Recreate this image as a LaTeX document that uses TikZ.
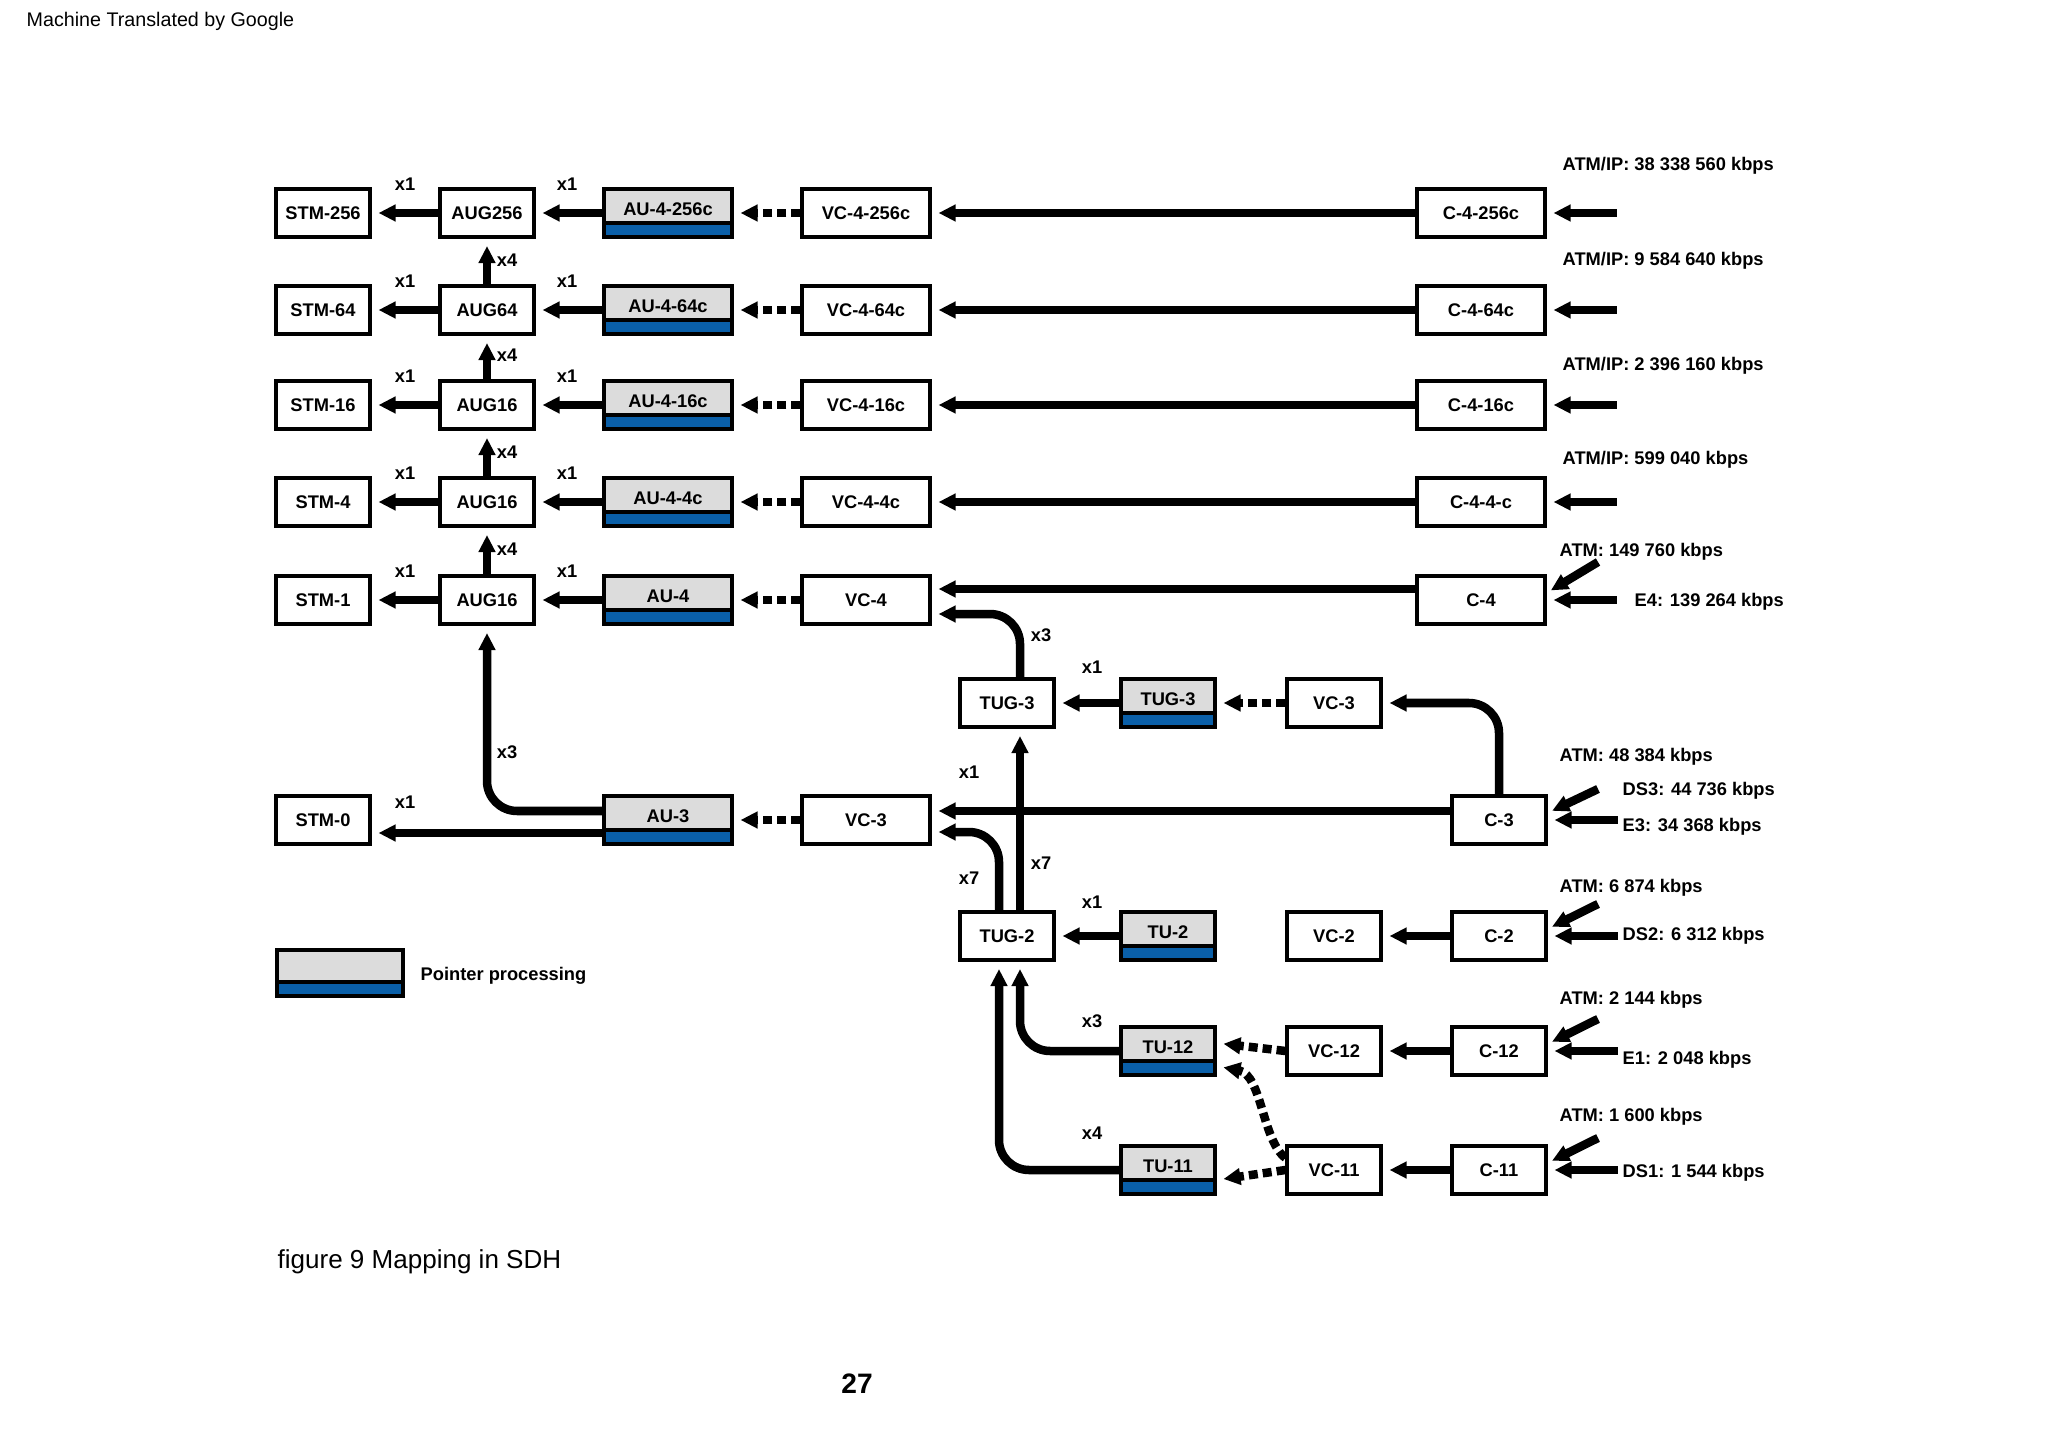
\documentclass[tikz,border=0pt]{standalone}
\usepackage{fontspec}
\setmainfont{Liberation Sans}
\usetikzlibrary{arrows.meta}
\definecolor{pblue}{HTML}{0A5FA8}
\definecolor{pgray}{HTML}{DCDCDC}
\begin{document}
\begin{tikzpicture}[x=0.01cm,y=-0.01cm,
  every node/.style={font=\fontsize{5.2}{6}\selectfont\bfseries},
  box/.style={draw,line width=0.04cm,fill=white,minimum width=0.93cm,minimum height=0.48cm,inner sep=0},
  wbox/.style={box,minimum width=1.27cm},
  ptr/.style={box,fill=pgray,minimum width=#1,
    path picture={\fill[pblue] (path picture bounding box.south west) rectangle ([yshift=0.13cm]path picture bounding box.south east);
      \draw[line width=0.04cm] ([yshift=0.14cm]path picture bounding box.south west) -- ([yshift=0.14cm]path picture bounding box.south east);}},
  ptr/.default=1.27cm,
  conn/.style={line width=0.085cm,-{Triangle[length=0.17cm,width=0.16cm]},shorten >=0.07cm},
  dconn/.style={conn,dash pattern=on 0.09cm off 0.05cm},
  lab/.style={font=\fontsize{5.2}{6}\selectfont\bfseries,inner sep=0,anchor=west},
  mul/.style={font=\fontsize{5.2}{6}\selectfont\bfseries,inner sep=0}]
\useasboundingbox (0,0) rectangle (2048,1452);
\node[font=\fontsize{5.6}{7}\selectfont,anchor=west,inner sep=0] (mt) at (26,21) {Machine Translated by Google};
% rows
\foreach \r/\y/\stm/\aug/\au/\vc/\c/\ml in {1/213/STM-256/AUG256/AU-4-256c/VC-4-256c/C-4-256c/ATM/IP: 38 338 560 kbps,
  2/310/STM-64/AUG64/AU-4-64c/VC-4-64c/C-4-64c/ATM/IP: 9 584 640 kbps,
  3/405/STM-16/AUG16/AU-4-16c/VC-4-16c/C-4-16c/ATM/IP: 2 396 160 kbps,
  4/502/STM-4/AUG16/AU-4-4c/VC-4-4c/C-4-4-c/ATM/IP: 599 040 kbps,
  5/600/STM-1/AUG16/AU-4/VC-4/C-4/ATM: 149 760 kbps}{
  \node[box] (stm\r) at (323,\y) {\stm};
  \node[box] (aug\r) at (487,\y) {\aug};
  \node[ptr] (au\r) at (668,\y) {\raisebox{0.08cm}{\au}};
  \node[wbox] (vc\r) at (866,\y) {\vc};
  \node[wbox] (c\r) at (1481,\y) {\c};
  \node[mul] (ma\r) at (405,\y-29) {x1};
  \node[mul] (mb\r) at (567,\y-29) {x1};
  \draw[conn] (aug\r) -- (stm\r);
  \draw[conn] (au\r) -- (aug\r);
  \draw[dconn] (vc\r) -- (au\r);
}
\foreach \r/\y in {1/166,2/261,3/366,4/460}{
  \node[lab] (ml\r) at (1562,\y) {};
}
\node[lab] at (1562,166) {ATM/IP: 38 338 560 kbps};
\node[lab] at (1562,261) {ATM/IP: 9 584 640 kbps};
\node[lab] at (1562,366) {ATM/IP: 2 396 160 kbps};
\node[lab] at (1562,460) {ATM/IP: 599 040 kbps};
\foreach \r in {1,2,3,4}{
  \draw[conn] (c\r) -- (vc\r);
  \coordinate (in\r) at ([xshift=0.7cm]c\r.east);
  \draw[conn] (in\r) -- (c\r);
}
\foreach \a/\b/\y in {2/1/260,3/2/355,4/3/452,5/4/549}{
  \draw[conn] (aug\a) -- (aug\b);
  \node[mul] at (507,\y) {x4};
}
% row 5 extras
\draw[conn] ([yshift=0.11cm]c5.west) -- ([yshift=0.11cm]vc5.east);
\coordinate (in5) at ([xshift=0.7cm]c5.east);
\draw[conn] (in5) -- (c5);
\coordinate (d5) at (1598,562);
\draw[conn,shorten >=0.05cm] (d5) -- ([yshift=0.07cm]c5.east);
\node[lab] at (1559,552) {ATM: 149 760 kbps};
\node[lab] at (1634,602) {E4: 139 264 kbps};
% STM-0 row
\node[box] (stm0) at (323,820) {STM-0};
\node[ptr] (au3) at (668,820) {\raisebox{0.08cm}{AU-3}};
\node[wbox] (vc3) at (866,820) {VC-3};
\draw[conn] ([yshift=-0.13cm]au3.west) -- ([yshift=-0.13cm]stm0.east);
\node[mul] at (405,802) {x1};
\draw[conn,rounded corners=0.3cm] ([yshift=0.09cm]au3.west) -| (aug5.south);
\node[mul] at (507,752) {x3};
\draw[dconn] (vc3) -- (au3);
% TUG-3
\node[box] (tug3) at (1007,703) {TUG-3};
\node[ptr=0.93cm] (tu3) at (1168,703) {\raisebox{0.08cm}{TUG-3}};
\node[box] (vc3b) at (1334,703) {VC-3};
\node[box] (c3) at (1499,820) {C-3};
\draw[conn] (tu3) -- (tug3);
\node[mul] at (1092,667) {x1};
\draw[dconn] (vc3b) -- (tu3);
\draw[conn,rounded corners=0.3cm] (c3.north) |- (vc3b.east);
\draw[conn,rounded corners=0.3cm] ([xshift=0.13cm]tug3.north) |- ([yshift=-0.14cm]vc5.east);
\node[mul] at (1041,635) {x3};
\draw[conn] ([yshift=0.09cm]c3.west) -- ([yshift=0.09cm]vc3.east);
\node[mul] at (969,772) {x1};
\coordinate (in6) at ([xshift=0.7cm]c3.east);
\draw[conn] (in6) -- (c3);
\coordinate (d6) at (1598,789);
\draw[conn,shorten >=0.05cm] (d6) -- ([yshift=0.07cm]c3.east);
\node[lab] at (1559,757) {ATM: 48 384 kbps};
\node[lab] at (1622,791) {DS3: 44 736 kbps};
\node[lab] at (1622,827) {E3: 34 368 kbps};
% TUG-2 area
\node[box] (tug2) at (1007,936) {TUG-2};
\draw[conn] ([xshift=0.13cm]tug2.north) -- ([xshift=0.13cm]tug3.south);
\node[mul] at (1041,863) {x7};
\draw[conn,rounded corners=0.3cm] ([xshift=-0.08cm]tug2.north) |- ([yshift=-0.12cm]vc3.east);
\node[mul] at (969,878) {x7};
\foreach \n/\y/\tu/\vc/\c/\m/\my in {2/936/TU-2/VC-2/C-2/x1/902, 12/1051/TU-12/VC-12/C-12/x3/1021, 11/1170/TU-11/VC-11/C-11/x4/1133}{
  \node[ptr=0.93cm] (tu\n) at (1168,\y) {\raisebox{0.08cm}{\tu}};
  \node[box] (vcs\n) at (1334,\y) {\vc};
  \node[box] (cs\n) at (1499,\y) {\c};
  \node[mul] at (1092,\my) {\m};
  \draw[conn] (cs\n) -- (vcs\n);
  \coordinate (ins\n) at ([xshift=0.7cm]cs\n.east);
  \draw[conn] (ins\n) -- (cs\n);
  \coordinate (ds\n) at (1598,\y-32);
  \draw[conn,shorten >=0.05cm] (ds\n) -- ([yshift=0.07cm]cs\n.east);
}
\draw[conn] (tu2) -- (tug2);
\draw[dconn] (vcs12.west) -- ([yshift=0.08cm]tu12.east);
\draw[dconn] (vcs11.west) -- ([yshift=-0.1cm]tu11.east);
\draw[dconn] ([yshift=0.12cm]vcs11.west) .. controls (1262,1140) and (1262,1075) .. ([yshift=-0.15cm]tu12.east);
\draw[conn,rounded corners=0.3cm] (tu12.west) -| ([xshift=0.13cm]tug2.south);
\draw[conn,rounded corners=0.3cm] (tu11.west) -| ([xshift=-0.08cm]tug2.south);
\node[lab] at (1559,888) {ATM: 6 874 kbps};
\node[lab] at (1622,936) {DS2: 6 312 kbps};
\node[lab] at (1559,1000) {ATM: 2 144 kbps};
\node[lab] at (1622,1060) {E1: 2 048 kbps};
\node[lab] at (1559,1117) {ATM: 1 600 kbps};
\node[lab] at (1622,1173) {DS1: 1 544 kbps};
% legend
\node[ptr=1.25cm,minimum height=0.46cm] (leg) at (340,973) {};
\node[lab] (legt) at (420,976) {Pointer processing};
\node[font=\fontsize{7.4}{9}\selectfont,anchor=west,inner sep=0] (cap) at (277,1262) {figure 9 Mapping in SDH};
\node[font=\fontsize{8}{10}\selectfont\bfseries,inner sep=0] (pg) at (857,1384) {27};
\end{tikzpicture}
\end{document}
